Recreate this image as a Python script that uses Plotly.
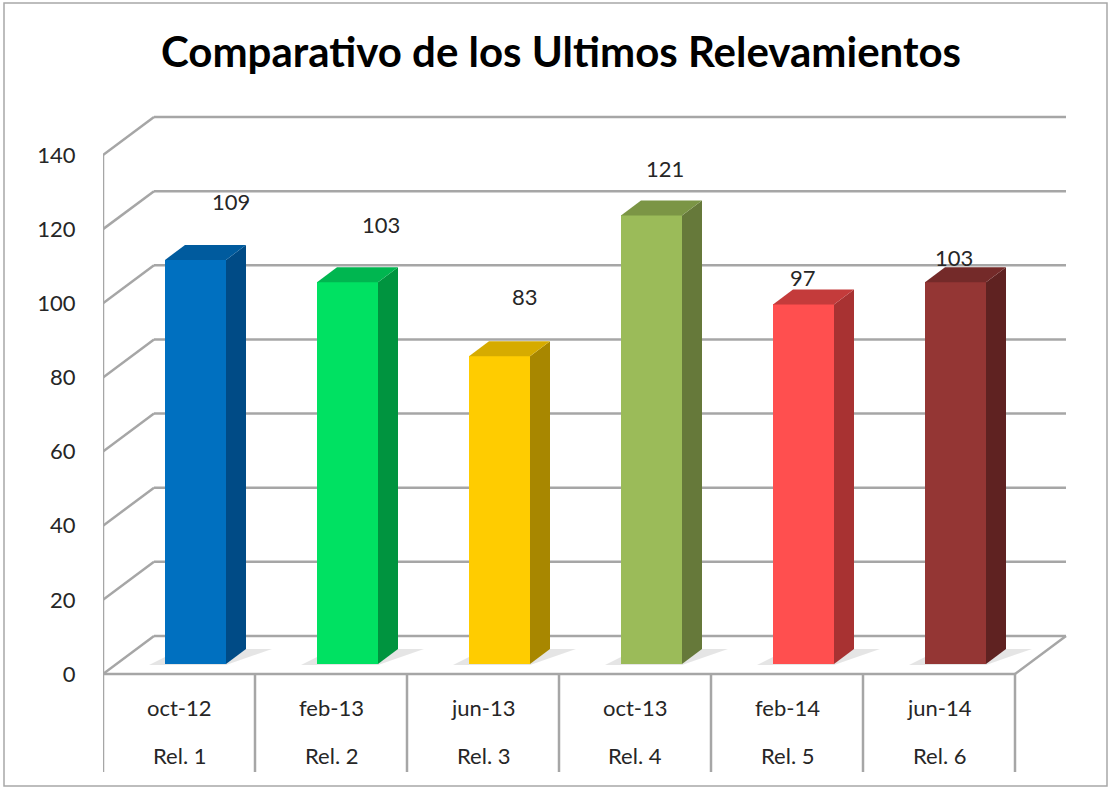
import plotly.graph_objects as go

# ---------------- data ----------------
categories = ["oct-12", "feb-13", "jun-13", "oct-13", "feb-14", "jun-14"]
releases = ["Rel. 1", "Rel. 2", "Rel. 3", "Rel. 4", "Rel. 5", "Rel. 6"]
values = [109, 103, 83, 121, 97, 103]
y_ticks = [0, 20, 40, 60, 80, 100, 120, 140]
title_text = "Comparativo de los Ultimos Relevamientos"

# ---------------- style ----------------
front_colors = ["#0070C0", "#00E162", "#FFCC00", "#9BBB59", "#FF4F4F", "#943634"]
side_colors = ["#004B86", "#00943F", "#A88700", "#66793A", "#A83232", "#5F2221"]
top_colors = ["#005B9E", "#00B650", "#D6AB00", "#7B9545", "#C43B3B", "#742A29"]
grid_color = "#A6A6A6"
text_color = "#262626"
FONT = "Lato"

W, H = 1110, 788
PLOT_LEFT = 103          # pixel of front vertical axis
PX_X = 152.0             # pixels per category
PX_Y = 3.707             # pixels per value unit
ZERO_PX = 674            # pixel row of value 0 on the front plane


def ux(px):
    return px / PX_X


def uy(px):
    return px / PX_Y


n = len(categories)
x_lo = -0.5
x_hi = x_lo + (W - PLOT_LEFT) / PX_X
y_lo = -(H - ZERO_PX) / PX_Y
y_hi = ZERO_PX / PX_Y

WALL_DX, WALL_DY = ux(51), uy(38)
BAR_OX, BAR_OY = ux(16.5), uy(10)
BAR_W = ux(61)
SIDE_DX, SIDE_DY = ux(20), uy(15)
TABLE_BOTTOM = -uy(98)
ROW1_Y = -uy(33)
ROW2_Y = -uy(81)

# value label offsets (pixels, relative to top-centre of the bar front face)
label_off = [(35, -58), (33, -58), (25, -60), (13, -47), (-1, -27), (-2, -25)]

shapes = []


def line(x0, y0, x1, y1, color=grid_color, width=2.5):
    shapes.append(dict(type="line", xref="x", yref="y", x0=x0, y0=y0, x1=x1, y1=y1,
                       line=dict(color=color, width=width), layer="below"))


# back wall gridlines + left wall diagonals
for v in y_ticks:
    line(x_lo, v, x_lo + WALL_DX, v + WALL_DY)
    line(x_lo + WALL_DX, v + WALL_DY, n - 0.5 + WALL_DX, v + WALL_DY)
# front vertical axis
line(x_lo, 0, x_lo, y_ticks[-1])
# floor front edge and right edge
line(x_lo, 0, n - 0.5, 0)
line(n - 0.5, 0, n - 0.5 + WALL_DX, WALL_DY)
# category table separators
for k in range(n + 1):
    line(k - 0.5, 0, k - 0.5, TABLE_BOTTOM)

# floor shadows behind each bar
for i in range(n):
    xl = i + BAR_OX - BAR_W / 2
    xr = i + BAR_OX + BAR_W / 2
    path = (f"M {xl - ux(16)},{BAR_OY - uy(1)} L {xr},{BAR_OY - uy(1)} "
            f"L {xr + SIDE_DX + ux(26)},{BAR_OY + SIDE_DY} L {xl + SIDE_DX - ux(4)},{BAR_OY + SIDE_DY} Z")
    shapes.append(dict(type="path", xref="x", yref="y", path=path,
                       fillcolor="rgba(0,0,0,0.10)", line=dict(width=0), layer="below"))


# frame border
def pxp(px):
    return (px - PLOT_LEFT) / (W - PLOT_LEFT)


shapes.append(dict(type="rect", xref="paper", yref="paper",
                   x0=pxp(4), x1=pxp(1107), y0=1 - 786 / H, y1=1 - 3 / H,
                   line=dict(color="#A8A8A8", width=1.5), fillcolor="rgba(0,0,0,0)", layer="below"))

fig = go.Figure()

# bar front faces
fig.add_trace(go.Bar(
    x=[i + BAR_OX for i in range(n)], y=values, base=BAR_OY, width=BAR_W,
    marker=dict(color=front_colors, line=dict(width=0)),
    hoverinfo="skip", showlegend=False))

# side and top faces (computed from the values)
for i, v in enumerate(values):
    xl = i + BAR_OX - BAR_W / 2
    xr = i + BAR_OX + BAR_W / 2
    yb = BAR_OY
    yt = BAR_OY + v
    fig.add_trace(go.Scatter(
        x=[xr, xr + SIDE_DX, xr + SIDE_DX, xr, xr],
        y=[yb, yb + SIDE_DY, yt + SIDE_DY, yt, yb],
        mode="lines", fill="toself", fillcolor=side_colors[i],
        line=dict(width=0, color=side_colors[i]), hoverinfo="skip", showlegend=False))
    fig.add_trace(go.Scatter(
        x=[xl, xr, xr + SIDE_DX, xl + SIDE_DX, xl],
        y=[yt, yt, yt + SIDE_DY, yt + SIDE_DY, yt],
        mode="lines", fill="toself", fillcolor=top_colors[i],
        line=dict(width=0, color=top_colors[i]), hoverinfo="skip", showlegend=False))

annotations = []
for i, v in enumerate(values):
    ox, oy = label_off[i]
    annotations.append(dict(x=i + BAR_OX + ux(ox), y=BAR_OY + v - uy(oy), xref="x", yref="y",
                            text=str(v), showarrow=False,
                            font=dict(family=FONT, size=22, color=text_color)))
for i in range(n):
    annotations.append(dict(x=i, y=ROW1_Y, xref="x", yref="y", text=categories[i], showarrow=False,
                            font=dict(family=FONT, size=22, color=text_color)))
    annotations.append(dict(x=i, y=ROW2_Y, xref="x", yref="y", text=releases[i], showarrow=False,
                            font=dict(family=FONT, size=22, color=text_color)))

fig.update_layout(
    width=W, height=H,
    margin=dict(l=PLOT_LEFT, r=0, t=0, b=0),
    paper_bgcolor="white", plot_bgcolor="white",
    title=dict(text=title_text, x=561 / W, xanchor="center", y=1 - 52 / H, yanchor="middle",
               xref="container", yref="container",
               font=dict(family=FONT, size=42, color="#000000", weight="bold")),
    xaxis=dict(range=[x_lo, x_hi], showgrid=False, zeroline=False, showline=False,
               showticklabels=False, ticks="", automargin=False),
    yaxis=dict(range=[y_lo, y_hi], showgrid=False, zeroline=False, showline=False,
               tickmode="array", tickvals=y_ticks, ticktext=[str(t) for t in y_ticks],
               ticks="outside", ticklen=22, tickcolor="rgba(0,0,0,0)", automargin=False,
               tickfont=dict(family=FONT, size=22, color=text_color)),
    shapes=shapes,
    annotations=annotations,
    bargap=0,
    showlegend=False,
)

fig.write_html("out.html",
               config={"displayModeBar": False},
               post_script="document.body.style.margin='0';document.body.style.overflow='hidden';")
